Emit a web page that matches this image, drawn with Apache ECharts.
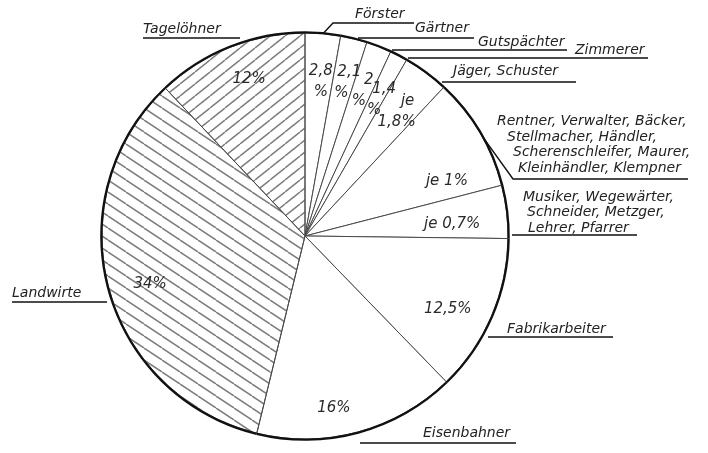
<!DOCTYPE html>
<html>
<head>
<meta charset="utf-8">
<script src="https://cdn.jsdelivr.net/npm/echarts@6/dist/echarts.min.js"></script>
<style>
  html, body { margin: 0; padding: 0; background: #fff; }
  #chart { width: 708px; height: 453px; }
</style>
</head>
<body>
<div id="chart"></div>
<script>
// Berufe (Anteil in %, "je" = Anteil pro Beruf, groupCount = Anzahl Berufe in der Gruppe)
var occupations = [
  ['Förster'],
  ['Gärtner'],
  ['Gutspächter'],
  ['Zimmerer'],
  ['Jäger, Schuster'],
  ['Rentner, Verwalter, Bäcker,', 'Stellmacher, Händler,', 'Scherenschleifer, Maurer,', 'Kleinhändler, Klempner'],
  ['Musiker, Wegewärter,', 'Schneider, Metzger,', 'Lehrer, Pfarrer'],
  ['Fabrikarbeiter'],
  ['Eisenbahner'],
  ['Landwirte'],
  ['Tagelöhner']
]
var shareEach = [2.8, 2.1, 2, 1.4, 1.8, 1, 0.7, 12.5, 16, 34, 12]
var groupCount = [1, 1, 1, 1, 2, 9, 6, 1, 1, 1, 1]
var pctLabels = [['2,8', '%'], ['2,1', '%'], ['2', '%'], ['1,4', '%'], ['je', '1,8%'], ['je 1%'], ['je 0,7%'], ['12,5%'], ['16%'], ['34%'], ['12%']]
var hatched = { 9: 'down', 10: 'up' }

// label placement (layout only)
var nameSpots = [
  { tx: 355, ty: 22, ly: 23, x0: 333, x1: 414, hook: true },
  { tx: 415, ty: 36, ly: 38, x0: 358, x1: 474 },
  { tx: 478, ty: 50, ly: 50, x0: 392, x1: 567 },
  { tx: 575, ty: 58, ly: 58, x0: 408, x1: 648 },
  { tx: 453, ty: 79, ly: 82, x0: 442, x1: 576 },
  { tx: 497, ty: 176, ly: 179, x0: 513, x1: 688, hook: true },
  { tx: 523, ty: 236, ly: 235, x0: 512, x1: 637 },
  { tx: 507, ty: 337, ly: 337, x0: 488, x1: 613 },
  { tx: 423, ty: 441, ly: 443, x0: 360, x1: 516 },
  { tx: 12, ty: 301, ly: 302, x0: 107, x1: 12 },
  { tx: 143, ty: 37, ly: 38, x0: 240, x1: 143 }
]
var nameIndent = [[0], [0], [0], [0], [0], [0, 10, 16, 21], [0, 4, 5], [0], [0], [0], [0]]
var pctShift = [[1, 12], [-4, 9], [-7, 11], [-8, 12], [-8, 10], [-2, 31], [-19, 8], [-11, 7], [-15, 11], [7, 5], [6, -1]]
var pctIndent = [0, 16, 20, 20, 22, 0, 0, 0, 0, 0, 0]

var CX = 305, CY = 236, R = 203
var FONT = 'DejaVu Sans'

function makeHatch(w, h, dir) {
  var c = document.createElement('canvas')
  c.width = w
  c.height = h
  var g = c.getContext('2d')
  g.strokeStyle = '#7c7c7c'
  g.lineWidth = 1.5
  for (var k = -1; k <= 1; k++) {
    g.beginPath()
    if (dir === 'up') {
      g.moveTo(k * w, h)
      g.lineTo(k * w + w, 0)
    } else {
      g.moveTo(k * w, 0)
      g.lineTo(k * w + w, h)
    }
    g.stroke()
  }
  return c
}
var hatchUp = { image: makeHatch(15, 12, 'up'), repeat: 'repeat' }
var hatchDown = { image: makeHatch(18, 12, 'down'), repeat: 'repeat' }

var pieData = []
for (var i = 0; i < shareEach.length; i++) {
  var item = { name: occupations[i].join(' '), value: shareEach[i] * groupCount[i] }
  if (hatched[i]) {
    item.itemStyle = { color: hatched[i] === 'up' ? hatchUp : hatchDown }
  }
  pieData.push(item)
}

// rich styles for indented lines
var nameRich = {}
nameIndent.forEach(function (arr) {
  arr.forEach(function (p) {
    nameRich['i' + p] = { fontFamily: FONT, fontStyle: 'italic', fontSize: 14, color: '#222', lineHeight: 15.5, padding: [0, 0, 0, p] }
  })
})
var pctRich = {}
pctIndent.forEach(function (p) {
  pctRich['i' + p] = { fontFamily: FONT, fontStyle: 'italic', fontSize: 15, color: '#2a2a2a', lineHeight: 21, padding: [0, 0, 0, p] }
})
pctRich.plain = { fontFamily: FONT, fontStyle: 'italic', fontSize: 15, color: '#2a2a2a', lineHeight: 21 }

var myChart = echarts.init(document.getElementById('chart'))
var option = {
  backgroundColor: '#fff',
  animation: false,
  series: [
    {
      type: 'pie',
      center: [CX, CY],
      radius: R,
      startAngle: 90,
      clockwise: true,
      avoidLabelOverlap: false,
      silent: true,
      itemStyle: { color: '#fff', borderColor: '#4a4a4a', borderWidth: 1 },
      label: {
        show: true,
        position: 'outside',
        fontFamily: FONT,
        fontStyle: 'italic',
        fontSize: 14,
        color: '#222',
        formatter: function (p) {
          var ind = nameIndent[p.dataIndex]
          return occupations[p.dataIndex].map(function (t, j) {
            return '{i' + ind[j] + '|' + t + '}'
          }).join('\n')
        },
        rich: nameRich
      },
      labelLine: { show: true, lineStyle: { color: '#111', width: 1.4 } },
      labelLayout: function (params) {
        var s = nameSpots[params.dataIndex]
        var start = (s.hook && params.labelLinePoints) ? params.labelLinePoints[0] : [s.x0, s.ly]
        return {
          x: s.tx,
          y: s.ty,
          align: 'left',
          verticalAlign: 'bottom',
          labelLinePoints: [start, [s.x0, s.ly], [s.x1, s.ly]]
        }
      },
      data: pieData
    },
    {
      // dicker Kreisrand
      type: 'pie',
      center: [CX, CY],
      radius: [R - 0.5, R + 1.8],
      startAngle: 90,
      silent: true,
      label: { show: false },
      labelLine: { show: false },
      itemStyle: { color: '#111', borderWidth: 0 },
      data: pieData.map(function (d) { return { name: d.name, value: d.value } })
    },
    {
      // Prozentangaben
      type: 'pie',
      center: [CX, CY],
      radius: [R * 0.62, R],
      startAngle: 90,
      silent: true,
      avoidLabelOverlap: false,
      itemStyle: { color: 'rgba(0,0,0,0)', borderWidth: 0 },
      label: {
        show: true,
        position: 'inside',
        fontFamily: FONT,
        fontStyle: 'italic',
        fontSize: 15,
        color: '#2a2a2a',
        formatter: function (p) {
          var parts = pctLabels[p.dataIndex]
          if (parts.length === 1) return '{plain|' + parts[0] + '}'
          return '{i' + pctIndent[p.dataIndex] + '|' + parts[0] + '}\n{plain|' + parts[1] + '}'
        },
        rich: pctRich
      },
      labelLayout: function (params) {
        var d = pctShift[params.dataIndex]
        return { dx: d[0], dy: d[1] }
      },
      data: pieData.map(function (d) { return { name: d.name, value: d.value } })
    }
  ]
}
option && myChart.setOption(option)
</script>
</body>
</html>
